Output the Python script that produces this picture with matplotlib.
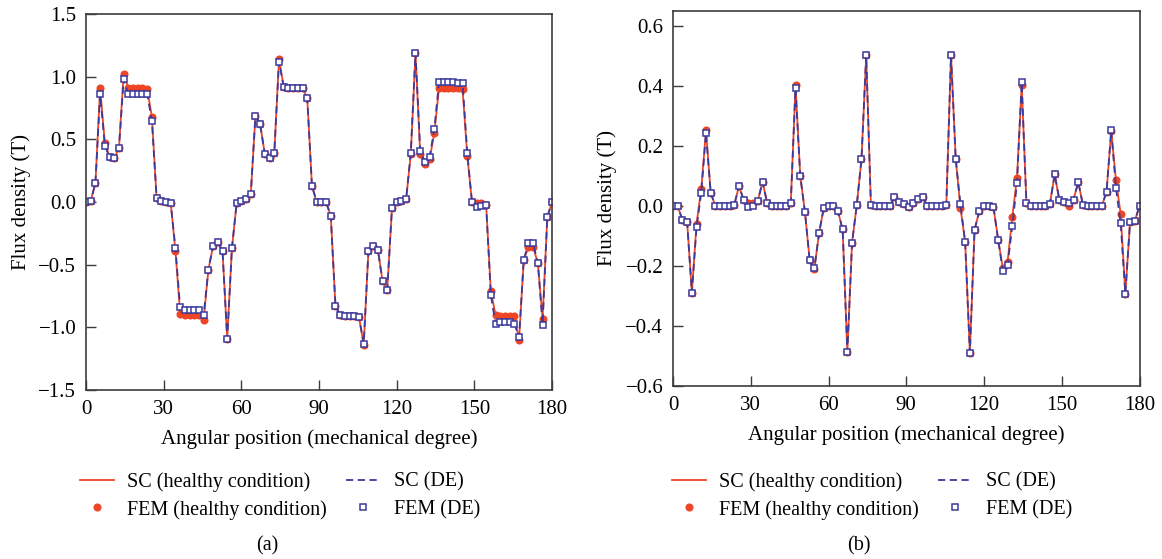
import numpy as np
import matplotlib
matplotlib.use("Agg")
from matplotlib import pyplot as plt

plt.rcParams['font.family'] = ['Liberation Serif', 'DejaVu Serif']
plt.rcParams['font.size'] = 14.5

# sample positions (mechanical degree)
angle = np.linspace(0, 180, 100)

# (a) flux density, healthy vs DE
a_healthy = [0.0, 0.01, 0.15, 0.91, 0.47, 0.36, 0.35, 0.43, 1.02, 0.91,
             0.91, 0.91, 0.91, 0.90, 0.68, 0.03, 0.01, 0.0, -0.01, -0.39,
             -0.89, -0.90, -0.90, -0.90, -0.90, -0.94, -0.54, -0.35, -0.32, -0.39,
             -1.09, -0.37, -0.01, 0.01, 0.02, 0.06, 0.69, 0.62, 0.38, 0.35,
             0.39, 1.14, 0.92, 0.91, 0.91, 0.91, 0.91, 0.83, 0.13, 0.0,
             0.0, 0.0, -0.11, -0.83, -0.90, -0.91, -0.91, -0.91, -0.92, -1.14,
             -0.39, -0.35, -0.38, -0.63, -0.70, -0.05, 0.0, 0.01, 0.02, 0.38,
             1.19, 0.38, 0.30, 0.34, 0.55, 0.91, 0.91, 0.91, 0.91, 0.91,
             0.90, 0.37, 0.0, -0.01, -0.01, -0.02, -0.71, -0.90, -0.91, -0.91,
             -0.91, -0.91, -1.10, -0.46, -0.36, -0.36, -0.49, -0.93, -0.12, 0.0]
a_de = [0.0, 0.01, 0.15, 0.86, 0.45, 0.36, 0.35, 0.43, 0.98, 0.86,
        0.86, 0.86, 0.86, 0.86, 0.65, 0.03, 0.01, 0.0, -0.01, -0.37,
        -0.84, -0.86, -0.86, -0.86, -0.86, -0.90, -0.54, -0.35, -0.32, -0.39,
        -1.09, -0.37, -0.01, 0.01, 0.02, 0.06, 0.69, 0.62, 0.38, 0.35,
        0.39, 1.12, 0.92, 0.91, 0.91, 0.91, 0.91, 0.83, 0.13, 0.0,
        0.0, 0.0, -0.11, -0.83, -0.90, -0.91, -0.91, -0.91, -0.92, -1.13,
        -0.39, -0.35, -0.38, -0.63, -0.70, -0.05, 0.0, 0.01, 0.02, 0.39,
        1.19, 0.41, 0.32, 0.36, 0.58, 0.96, 0.96, 0.96, 0.96, 0.95,
        0.95, 0.39, 0.0, -0.04, -0.03, -0.02, -0.74, -0.97, -0.96, -0.96,
        -0.96, -0.97, -1.08, -0.46, -0.33, -0.33, -0.49, -0.98, -0.12, 0.0]

# (b) flux density, healthy vs DE
b_healthy = [0.0, 0.0, -0.047, -0.053, -0.289, -0.059, 0.058, 0.252, 0.044, 0.0,
             0.0, 0.0, 0.0, 0.003, 0.067, 0.02, 0.009, 0.011, 0.017, 0.081,
             0.009, 0.0, 0.0, 0.0, 0.0, 0.011, 0.403, 0.101, -0.02, -0.18,
             -0.21, -0.09, -0.006, 0.0, 0.0, -0.017, -0.078, -0.487, -0.122, 0.003,
             0.156, 0.502, 0.003, 0.0, 0.0, 0.0, 0.0, 0.029, 0.013, 0.006,
             -0.003, 0.01, 0.022, 0.03, 0.0, 0.0, 0.0, 0.0, 0.003, 0.503,
             0.156, -0.006, -0.12, -0.489, -0.079, -0.017, 0.0, 0.0, -0.003, -0.112,
             -0.208, -0.186, -0.037, 0.094, 0.403, 0.011, 0.0, 0.0, 0.0, 0.0,
             0.008, 0.106, 0.019, 0.014, 0.0, 0.021, 0.08, 0.003, 0.0, 0.0,
             0.0, 0.0, 0.047, 0.25, 0.087, -0.026, -0.292, -0.052, -0.05, 0.0]
b_de = [0.0, 0.0, -0.047, -0.053, -0.289, -0.07, 0.044, 0.244, 0.044, 0.0,
        0.0, 0.0, 0.0, 0.003, 0.067, 0.02, -0.003, -0.001, 0.017, 0.081,
        0.009, 0.0, 0.0, 0.0, 0.0, 0.011, 0.394, 0.101, -0.02, -0.18,
        -0.208, -0.09, -0.006, 0.0, 0.0, -0.017, -0.078, -0.487, -0.122, 0.003,
        0.156, 0.502, 0.003, 0.0, 0.0, 0.0, 0.0, 0.029, 0.013, 0.006,
        -0.003, 0.01, 0.022, 0.03, 0.0, 0.0, 0.0, 0.0, 0.003, 0.503,
        0.156, 0.006, -0.12, -0.489, -0.079, -0.017, 0.0, 0.0, -0.003, -0.112,
        -0.217, -0.198, -0.067, 0.076, 0.412, 0.011, 0.0, 0.0, 0.0, 0.0,
        0.008, 0.106, 0.019, 0.014, 0.011, 0.021, 0.08, 0.003, 0.0, 0.0,
        0.0, 0.0, 0.047, 0.252, 0.061, -0.058, -0.292, -0.052, -0.05, 0.0]

a_yticks = [-1.5, -1.0, -0.5, 0.0, 0.5, 1.0, 1.5]
b_yticks = [-0.6, -0.4, -0.2, 0.0, 0.2, 0.4, 0.6]
xticks = [0, 30, 60, 90, 120, 150, 180]

red = '#ee4524'
blue = '#3a3a9e'
frame = '#3c3c3c'

W, H = 1162, 559
fig = plt.figure(figsize=(W / 100, H / 100), dpi=100)
ax1 = fig.add_axes([86 / W, 1 - 390 / H, 466 / W, 376 / H])
ax2 = fig.add_axes([673 / W, 1 - 386 / H, 466.5 / W, 375 / H])


def draw(ax, healthy, de, yticks, ylim, ylab_x):
    ax.plot(angle, healthy, '-', color=red, lw=1.3, label='SC (healthy condition)')
    ax.plot(angle, healthy, 'o', color=red, ms=4.8, mec=red, label='FEM (healthy condition)')
    ax.plot(angle, de, '--', color=blue, lw=1.3, dashes=(4, 2.5), label='SC (DE)')
    ax.plot(angle, de, 's', mfc='white', mec=blue, mew=1.1, ms=4.2, label='FEM (DE)')
    ax.set_xlim(0, 180)
    ax.set_ylim(*ylim)
    ax.set_xticks(xticks)
    ax.set_yticks(yticks)
    ax.set_yticklabels(['%.1f' % v if v >= 0 else '\u2212%.1f' % -v for v in yticks])
    ax.tick_params(direction='in', length=7, width=1, color=frame, top=False, right=False,
                   labelsize=15)
    ax.tick_params(axis='x', pad=7)
    ax.tick_params(axis='y', pad=7)
    for s in ax.spines.values():
        s.set_color(frame)
        s.set_linewidth(1.2)
    ax.set_xlabel('Angular position (mechanical degree)', fontsize=15)
    ax.set_ylabel('Flux density (T)', fontsize=15)
    ax.xaxis.set_label_coords(0.5, -0.105)
    ax.yaxis.set_label_coords(ylab_x, 0.5)


draw(ax1, a_healthy, a_de, a_yticks, (-1.5, 1.5), -0.117)
draw(ax2, b_healthy, b_de, b_yticks, (-0.6, 0.65), -0.12)

for ax, x0, lab, lx in [(ax1, 80 / W, '(a)', 267 / W), (ax2, 672 / W, '(b)', 859 / W)]:
    h, l = ax.get_legend_handles_labels()
    fig.legend([h[0], h[1], h[2], h[3]], [l[0], l[1], l[2], l[3]], ncol=2,
               loc='upper left', bbox_to_anchor=(x0, 1 - 472 / H), frameon=False,
               borderpad=0, borderaxespad=0, handlelength=1.7, handletextpad=0.65,
               columnspacing=0.95, labelspacing=0.4, numpoints=1)
    fig.text(lx, 1 - 546 / H, lab, ha='center', va='center')

fig.savefig('out.png', dpi=100)
